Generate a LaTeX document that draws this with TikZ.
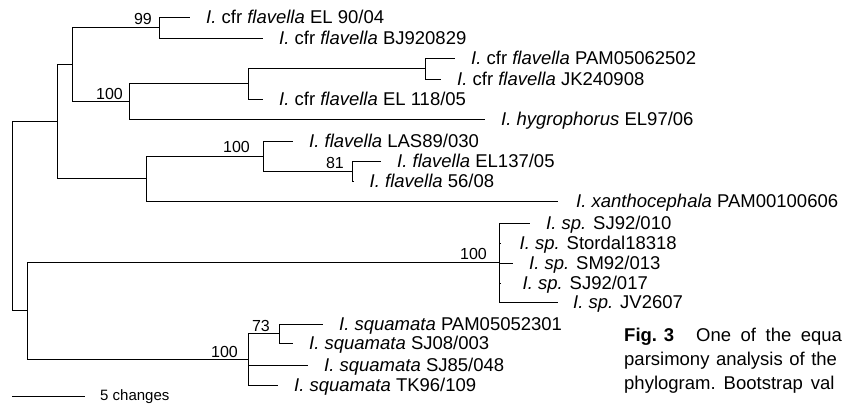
\documentclass[tikz,border=0pt]{standalone}
\usepackage{fontspec}
\setmainfont{Liberation Sans}
\begin{document}
\begin{tikzpicture}[x=1pt,y=-1pt,
  br/.style={line width=1pt, black},
  leaf/.style={anchor=base west, inner sep=0pt, font=\fontsize{18.5}{22}\selectfont, xshift=16pt, yshift=-6.6pt},
  bs/.style={anchor=base east, inner sep=0pt, font=\fontsize{16}{19}\selectfont},
  captxt/.style={anchor=base west, inner sep=0pt, font=\fontsize{18.5}{22}\selectfont},
  sbtext/.style={anchor=base west, inner sep=0pt, font=\fontsize{15}{18}\selectfont}
]
\useasboundingbox (0,0) rectangle (842,405);
\clip (0,0) rectangle (842,405);
% internal nodes
\coordinate (root) at (12,216);
\coordinate (n1) at (57,121.5);
\coordinate (n2) at (72,64.4);
\coordinate (n99) at (159,27.5);
\coordinate (n100a) at (129,101.4);
\coordinate (nA) at (248,83.75);
\coordinate (nB) at (425,68.5);
\coordinate (n3) at (146,178.5);
\coordinate (nD) at (263,156);
\coordinate (n81) at (352,171);
\coordinate (nE) at (27,310.9);
\coordinate (nsp) at (499,262.5);
\coordinate (nF) at (248,359.25);
\coordinate (nG) at (279,333.5);
% leaves
\coordinate (l1) at (190,17);
\coordinate (l2) at (263,38);
\coordinate (l3) at (455,58);
\coordinate (l4) at (441,79);
\coordinate (l5) at (263,99);
\coordinate (l6) at (485,119);
\coordinate (l7) at (293,141);
\coordinate (l8) at (381,161);
\coordinate (l9) at (353.5,181);
\coordinate (l10) at (558,201);
\coordinate (l11) at (530,223);
\coordinate (l12) at (500.5,243);
\coordinate (l13) at (513,263);
\coordinate (l14) at (500.5,283);
\coordinate (l15) at (558,302);
\coordinate (l16) at (323,324);
\coordinate (l17) at (293,343);
\coordinate (l18) at (308,365);
\coordinate (l19) at (278,385);
% branches
\draw[br] (root) |- (n1);
\draw[br] (root) |- (nE);
\draw[br] (n1) |- (n2);
\draw[br] (n1) |- (n3);
\draw[br] (n2) |- (n99);
\draw[br] (n2) |- (n100a);
\draw[br] (n99) |- (l1);
\draw[br] (n99) |- (l2);
\draw[br] (n100a) |- (nA);
\draw[br] (n100a) |- (l6);
\draw[br] (nA) |- (nB);
\draw[br] (nA) |- (l5);
\draw[br] (nB) |- (l3);
\draw[br] (nB) |- (l4);
\draw[br] (n3) |- (nD);
\draw[br] (n3) |- (l10);
\draw[br] (nD) |- (l7);
\draw[br] (nD) |- (n81);
\draw[br] (n81) |- (l8);
\draw[br] (n81) |- (l9);
\draw[br] (nE) |- (nsp);
\draw[br] (nE) |- (nF);
\draw[br] (nsp) |- (l11);
\draw[br] (nsp) |- (l12);
\draw[br] (nsp) |- (l13);
\draw[br] (nsp) |- (l14);
\draw[br] (nsp) |- (l15);
\draw[br] (nF) |- (nG);
\draw[br] (nF) |- (l18);
\draw[br] (nF) |- (l19);
\draw[br] (nG) |- (l16);
\draw[br] (nG) |- (l17);
% leaf labels
\node[leaf] (t1) at (l1) {\textit{I.} cfr \textit{flavella} EL 90/04};
\node[leaf] (t2) at (l2) {\textit{I.} cfr \textit{flavella} BJ920829};
\node[leaf] (t3) at (l3) {\textit{I.} cfr \textit{flavella} PAM05062502};
\node[leaf] (t4) at (l4) {\textit{I.} cfr \textit{flavella} JK240908};
\node[leaf] (t5) at (l5) {\textit{I.} cfr \textit{flavella} EL 118/05};
\node[leaf] (t6) at (l6) {\textit{I. hygrophorus} EL97/06};
\node[leaf] (t7) at (l7) {\textit{I. flavella} LAS89/030};
\node[leaf] (t8) at (l8) {\textit{I. flavella} EL137/05};
\node[leaf] (t9) at (l9) {\textit{I. flavella} 56/08};
\node[leaf,xshift=2pt] (t10) at (l10) {\textit{I. xanthocephala} PAM00100606};
\node[leaf] (t11) at (l11) {\textit{I. sp.} SJ92/010};
\node[leaf,xshift=3pt] (t12) at (l12) {\textit{I. sp.} Stordal18318};
\node[leaf] (t13) at (l13) {\textit{I. sp.} SM92/013};
\node[leaf,xshift=6pt] (t14) at (l14) {\textit{I. sp.} SJ92/017};
\node[leaf,xshift=-1pt] (t15) at (l15) {\textit{I. sp.} JV2607};
\node[leaf] (t16) at (l16) {\textit{I. squamata} PAM05052301};
\node[leaf] (t17) at (l17) {\textit{I. squamata} SJ08/003};
\node[leaf] (t18) at (l18) {\textit{I. squamata} SJ85/048};
\node[leaf] (t19) at (l19) {\textit{I. squamata} TK96/109};
% bootstrap values
\node[bs] (b99) at (152,24.5) {99};
\node[bs] (b100a) at (123,99) {100};
\node[bs] (b100b) at (250,152.5) {100};
\node[bs] (b81) at (344,168.5) {81};
\node[bs] (b100c) at (487,259) {100};
\node[bs] (b100d) at (238,357) {100};
\node[bs] (b73) at (270,331) {73};
% scale bar
\coordinate (sb1) at (12,396);
\coordinate (sb2) at (85,396);
\draw[br] (sb1) -- (sb2);
\node[sbtext] (sbt) at (100,400.5) {5 changes};
% caption
\node[captxt] (cap1) at (624,341.5) {\textbf{Fig. 3}\hspace{22pt}One\hspace{9.5pt}of\hspace{9.5pt}the\hspace{9.5pt}equa};
\node[captxt] (cap2) at (624,365.5) {parsimony\hspace{6.5pt}analysis\hspace{6.5pt}of\hspace{6.5pt}the};
\node[captxt] (cap3) at (624,389.5) {phylogram.\hspace{8pt}Bootstrap\hspace{8pt}val};
\end{tikzpicture}
\end{document}
